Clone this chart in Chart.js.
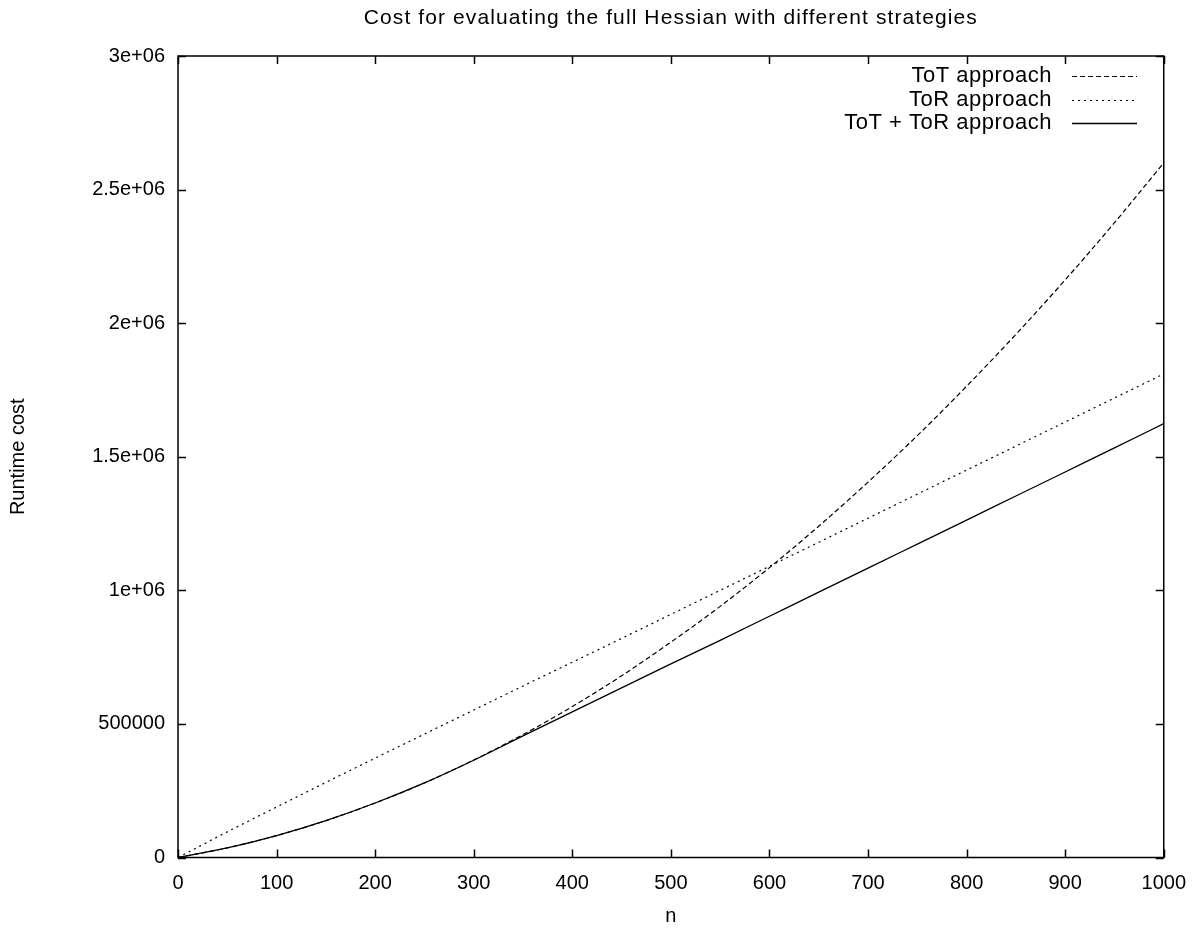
<!DOCTYPE html>
<html>
<head>
<meta charset="utf-8">
<title>Cost for evaluating the full Hessian with different strategies</title>
<script src="https://cdn.jsdelivr.net/npm/chart.js@4/dist/chart.umd.min.js"></script>
<style>
  body { margin: 0; background: #fff; }
  #wrap { width: 1200px; height: 931px; }
</style>
</head>
<body>
<div id="wrap"><canvas id="hessianChart"></canvas></div>
<script>
// problem size n
const nValues = [0, 50, 100, 150, 200, 250, 300, 350, 400, 450, 500,
                 550, 600, 650, 700, 750, 800, 850, 900, 950, 1000];

// runtime cost
const totCost = [0, 36000, 82000, 138000, 204000, 279000, 365000, 460000, 565000, 680000, 806000,
                 940000, 1085000, 1240000, 1405000, 1579000, 1764000, 1958000, 2162000, 2376000, 2600000];
const torCost = [0, 96000, 189000, 281000, 372000, 462000, 552000, 642000, 731000, 820000, 910000,
                 1000000, 1090000, 1180000, 1270000, 1360000, 1450000, 1540000, 1630000, 1720000, 1810000];
const combinedCost = [0, 36000, 82000, 138000, 204000, 279000, 364000, 455000, 545000, 635000, 725000,
                      813000, 903000, 993000, 1083000, 1173000, 1263000, 1353000, 1443000, 1533000, 1624000];

const seriesLabels = ['ToT approach', 'ToR approach', 'ToT + ToR approach'];
const xTicks = [0, 100, 200, 300, 400, 500, 600, 700, 800, 900, 1000];
const yTicks = [0, 500000, 1000000, 1500000, 2000000, 2500000, 3000000];

const FONT = 'Liberation Sans, Arial, Helvetica, sans-serif';

// gnuplot style numbers: 500000, 1e+06, 2.5e+06
function gnuFmt(v) {
    if (v < 1000000) return String(v);
    return (v / 1000000) + 'e+06';
}

function toPoints(ys) {
    return nValues.map((n, i) => ({ x: n, y: ys[i] }));
}

// frame, inward ticks, title and legend like gnuplot draws them
const gnuplotLook = {
    id: 'gnuplotLook',
    afterDraw(chart) {
        const { ctx, chartArea: a, scales } = chart;
        const tl = 8;
        ctx.save();
        ctx.strokeStyle = '#000';
        ctx.lineWidth = 1.5;
        ctx.beginPath();
        xTicks.forEach(v => {
            const px = Math.round(scales.x.getPixelForValue(v)) + 0.5;
            ctx.moveTo(px, a.bottom); ctx.lineTo(px, a.bottom - tl);
            ctx.moveTo(px, a.top); ctx.lineTo(px, a.top + tl);
        });
        yTicks.forEach(v => {
            const py = Math.round(scales.y.getPixelForValue(v)) + 0.5;
            ctx.moveTo(a.left, py); ctx.lineTo(a.left + tl, py);
            ctx.moveTo(a.right, py); ctx.lineTo(a.right - tl, py);
        });
        ctx.stroke();
        ctx.strokeRect(a.left, a.top, a.right - a.left, a.bottom - a.top);

        // title
        ctx.fillStyle = '#000';
        ctx.font = '21px ' + FONT;
        ctx.letterSpacing = '1.1px';
        ctx.textAlign = 'center';
        ctx.textBaseline = 'middle';
        ctx.fillText('Cost for evaluating the full Hessian with different strategies', (a.left + a.right) / 2, 18);

        // legend
        ctx.font = '22px ' + FONT;
        ctx.letterSpacing = '0.5px';
        ctx.textAlign = 'right';
        chart.data.datasets.forEach((ds, i) => {
            const y = 76 + i * 23.5;
            ctx.fillText(ds.label, 1052, y);
            ctx.beginPath();
            ctx.lineWidth = ds.borderWidth;
            ctx.strokeStyle = ds.borderColor;
            ctx.setLineDash(ds.borderDash || []);
            ctx.moveTo(1072, Math.round(y) + 0.5);
            ctx.lineTo(1137, Math.round(y) + 0.5);
            ctx.stroke();
        });
        ctx.restore();
    }
};

const ctx = document.getElementById('hessianChart').getContext('2d');

const hessianChart = new Chart(ctx, {
    type: 'line',
    data: {
        datasets: [
            {
                label: seriesLabels[0],
                data: toPoints(totCost),
                borderColor: '#000',
                borderWidth: 1.2,
                borderDash: [5, 3],
                pointRadius: 0,
                cubicInterpolationMode: 'monotone'
            },
            {
                label: seriesLabels[1],
                data: toPoints(torCost),
                borderColor: '#000',
                borderWidth: 1.2,
                borderDash: [2, 4],
                pointRadius: 0,
                cubicInterpolationMode: 'monotone'
            },
            {
                label: seriesLabels[2],
                data: toPoints(combinedCost),
                borderColor: '#000',
                borderWidth: 1.3,
                pointRadius: 0,
                cubicInterpolationMode: 'monotone'
            }
        ]
    },
    options: {
        responsive: true,
        maintainAspectRatio: false,
        animation: false,
        layout: {
            padding: { top: 56, right: 35, bottom: 0, left: 0 }
        },
        scales: {
            x: {
                type: 'linear',
                min: 0,
                max: 1000,
                afterBuildTicks: (scale) => { scale.ticks = xTicks.map(v => ({ value: v })); },
                afterFit: (scale) => { scale.height = 73.5; },
                grid: { display: false, drawTicks: false },
                border: { display: false },
                ticks: {
                    color: '#000',
                    padding: 14,
                    font: { family: FONT, size: 20 },
                    callback: (v) => String(v)
                },
                title: {
                    display: true,
                    text: 'n',
                    color: '#000',
                    font: { family: FONT, size: 20 },
                    padding: { top: 0, bottom: 3 }
                }
            },
            y: {
                type: 'linear',
                min: 0,
                max: 3000000,
                afterBuildTicks: (scale) => { scale.ticks = yTicks.map(v => ({ value: v })); },
                afterFit: (scale) => { scale.width = 178; },
                grid: { display: false, drawTicks: false },
                border: { display: false },
                ticks: {
                    color: '#000',
                    padding: 13,
                    font: { family: FONT, size: 20 },
                    callback: (v) => gnuFmt(v)
                },
                title: {
                    display: true,
                    text: 'Runtime cost',
                    color: '#000',
                    font: { family: FONT, size: 20 },
                    padding: { top: 6, bottom: 0 }
                }
            }
        },
        plugins: {
            legend: { display: false },
            title: { display: false },
            tooltip: { enabled: false }
        }
    },
    plugins: [gnuplotLook]
});
</script>
</body>
</html>
